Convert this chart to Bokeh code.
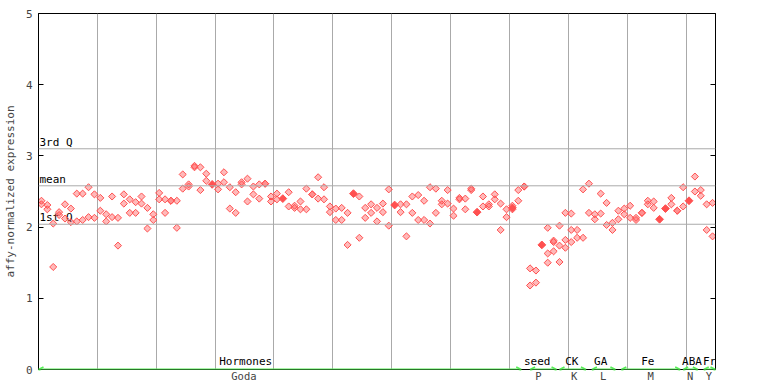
from bokeh.plotting import figure
from bokeh.models import (Range1d, FixedTicker, LinearAxis, Span, Arrow, OpenHead,
                          ColumnDataSource)
from bokeh.core.properties import value
from bokeh.embed import file_html
from bokeh.resources import INLINE
import math

# replicate values for each sample column (index = column); [] where only a mean marker sits
replicates = [
    [2.37, 2.32], [2.31, 2.25], [2.05, 1.44], [2.21, 2.17], [2.32, 2.12],
    [2.26, 2.07], [2.47, 2.08], [2.47, 2.10], [2.56, 2.14], [2.46, 2.13],
    [2.41, 2.23], [2.18, 2.08], [2.43, 2.14], [2.13, 1.74], [2.46, 2.33],
    [2.39, 2.20], [2.35, 2.20], [2.43, 2.33], [2.27, 1.98], [2.18, 2.10],
    [2.48, 2.39], [2.39, 2.20], [2.37, 2.37], [2.37, 1.99], [2.74, 2.54],
    [2.60, 2.57], [2.86, 2.84], [2.84, 2.52], [2.75, 2.65], [],
    [2.61, 2.53], [2.77, 2.63], [2.56, 2.26], [2.49, 2.20], [2.63, 2.60],
    [2.68, 2.36], [2.57, 2.46], [2.60, 2.40], [2.61, 2.61], [2.43, 2.36],
    [2.47, 2.39], [], [2.49, 2.29], [2.30, 2.27], [2.36, 2.25],
    [2.54, 2.25], [2.46, 2.46], [2.70, 2.40], [2.56, 2.39], [2.29, 2.21],
    [2.26, 2.10], [2.27, 2.10], [2.20, 1.75], [], [2.43, 1.85],
    [2.27, 2.13], [2.32, 2.20], [2.27, 2.08], [2.33, 2.21], [2.53, 2.02],
    [], [2.32, 2.21], [2.32, 1.87], [2.43, 2.20], [2.45, 2.10],
    [2.37, 2.10], [2.56, 2.05], [2.54, 2.20], [2.37, 2.32], [2.52, 2.33],
    [2.26, 2.16], [2.41, 2.39], [2.40, 2.25], [2.54, 2.52], [],
    [2.43, 2.29], [2.32, 2.29], [2.46, 2.39], [2.33, 1.96], [2.25, 2.14],
    [2.30, 2.25], [2.52, 2.37], [2.57, 2.57], [1.42, 1.18], [1.39, 1.22],
    [], [1.99, 1.63, 1.50], [1.81, 1.79, 1.66], [2.02, 1.74, 1.51], [2.20, 1.82, 1.71],
    [2.19, 1.96, 1.79], [1.96, 1.85], [2.53, 1.85], [2.61, 2.20], [2.18, 2.11],
    [2.47, 2.19], [2.34, 2.03], [2.06, 1.96], [2.23, 2.11], [2.26, 2.18],
    [2.30, 2.13], [2.13, 2.10], [2.20, 2.20], [2.37, 2.32], [2.36, 2.27],
    [], [], [2.41, 2.32], [2.23, 2.23], [2.56, 2.29],
    [], [2.71, 2.50], [2.52, 2.44], [2.32, 1.96], [2.34, 1.87],
]
mean_cols = [29, 41, 53, 60, 74, 80, 85, 105, 106, 110]
mean_vals = [2.60, 2.40, 2.47, 2.31, 2.21, 2.27, 1.75, 2.11, 2.26, 2.37]

quart_names = ["3rd Q", "mean", "1st Q"]
quart_vals = [3.10, 2.58, 2.04]

group_names = ["Hormones", "seed", "CK", "GA", "Fe", "ABA", "Fr"]
group_name_x = [35.2, 84.7, 90.6, 95.5, 103.5, 111.0, 114.0]
group_series = ["Goda", "P", "K", "L", "M", "N", "Y"]
group_series_x = [34.9, 84.9, 91.0, 95.9, 104.0, 110.7, 113.9]
group_start = [0.0, 83.5, 88.5, 94.0, 99.0, 109.5, 113.0]
group_end = [82.0, 88.0, 93.0, 98.0, 109.0, 112.0, 115.0]

y_ticks = [0, 1, 2, 3, 4, 5]
x_grid = [10, 20, 30, 40, 50, 60, 70, 80, 90, 100, 110]
n_cols = len(replicates)

RED = "#ff5050"
GREEN = "#55ee55"
GRID = "#aaaaaa"
FONT = "DejaVu Sans Mono"

p = figure(width=766, height=384, output_backend="svg", toolbar_location=None,
           x_range=Range1d(0, n_cols), y_range=Range1d(0, 5),
           min_border_left=37, min_border_right=51, min_border_top=13, min_border_bottom=15)
p.outline_line_color = "black"
p.background_fill_color = "white"
p.border_fill_color = "white"

# axes
p.yaxis.ticker = FixedTicker(ticks=y_ticks)
p.yaxis.major_tick_in = 5
p.yaxis.major_tick_out = 0
p.yaxis.minor_tick_line_color = None
p.yaxis.major_label_standoff = 6
p.yaxis.axis_label = "affy-normalized expression"
p.yaxis.axis_label_text_font = FONT
p.yaxis.axis_label_text_font_style = "normal"
p.yaxis.axis_label_text_font_size = "11px"
p.yaxis.axis_label_standoff = 6
p.yaxis.major_label_text_font = FONT
p.yaxis.major_label_text_font_size = "11px"
p.yaxis.axis_line_color = "black"

p.xaxis.ticker = FixedTicker(ticks=group_series_x)
p.xaxis.major_label_overrides = {x: s for x, s in zip(group_series_x, group_series)}
p.xaxis.major_tick_in = 0
p.xaxis.major_tick_out = 0
p.xaxis.minor_tick_line_color = None
p.xaxis.major_label_standoff = 0
p.xaxis.major_label_text_font = FONT
p.xaxis.major_label_text_font_size = "10.5px"
p.xaxis.axis_line_color = "black"

right = LinearAxis(ticker=FixedTicker(ticks=y_ticks), major_tick_in=5, major_tick_out=0,
                   minor_tick_line_color=None, major_label_text_alpha=0,
                   major_label_text_font_size="1px", axis_line_color="black")
p.add_layout(right, "right")

p.ygrid.grid_line_color = None
p.xgrid.ticker = FixedTicker(ticks=x_grid)
p.xgrid.grid_line_color = GRID
p.xgrid.grid_line_alpha = 1.0

for v in quart_vals:
    p.add_layout(Span(location=v, dimension="width", line_color=GRID, line_width=1))
p.text(x=[0] * len(quart_vals), y=quart_vals, text=quart_names, text_font=value(FONT),
       text_font_size="11px", text_baseline="bottom", text_align="left",
       x_offset=1, y_offset=0, text_color="black")

# points
xs, ys = [], []
for k, vals in enumerate(replicates):
    for v in vals:
        xs.append(k + 0.5)
        ys.append(v)
p.scatter(xs, ys, marker="square", angle=math.pi / 4, size=5, line_color=RED,
          fill_color=RED, fill_alpha=0.4, line_width=1)
p.scatter([c + 0.5 for c in mean_cols], mean_vals, marker="square", angle=math.pi / 4,
          size=5.5, line_color=RED, fill_color=RED, line_width=1)

# group arrows along the base
src = ColumnDataSource(dict(x0=group_start, x1=group_end, y=[0] * len(group_start)))
p.add_layout(Arrow(start=OpenHead(size=5, line_color=GREEN, line_width=1.5),
                   end=OpenHead(size=5, line_color=GREEN, line_width=1.5),
                   x_start="x0", y_start="y", x_end="x1", y_end="y", source=src,
                   line_color=GREEN, line_width=2, level="overlay"))
p.text(x=group_name_x, y=[0] * len(group_names), text=group_names, text_font=value(FONT),
       text_font_size="11px", text_baseline="bottom", text_align="center",
       y_offset=-2, text_color="black")

open("out.html", "w").write(file_html(p, INLINE))
